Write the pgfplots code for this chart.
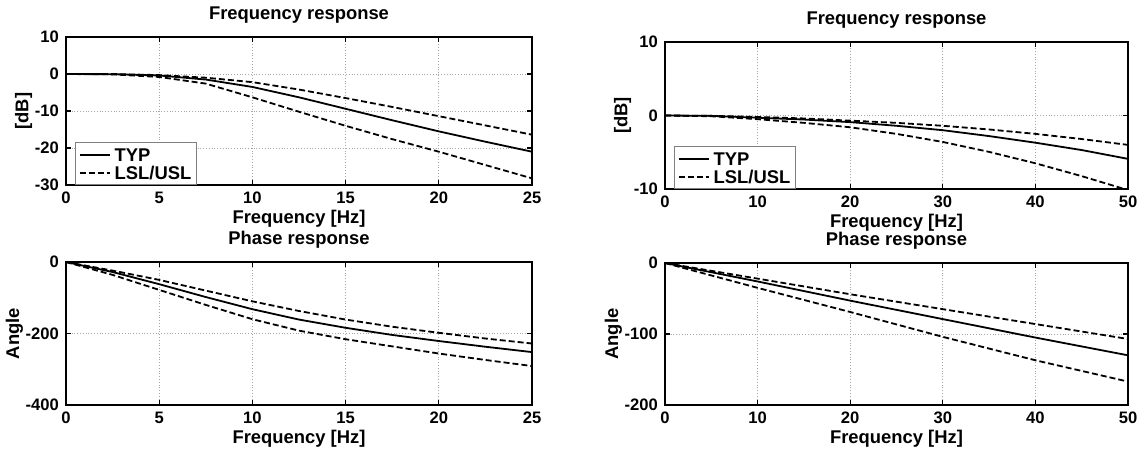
\documentclass[border=0pt]{standalone}
\usepackage{fontspec}
\setmainfont{Liberation Sans}
\usepackage{pgfplots}
\pgfplotsset{compat=1.18}
\begin{document}
\begin{tikzpicture}
\useasboundingbox (0pt,0pt) rectangle (570pt,226pt);
\pgfplotsset{
  ml/.style={
    scale only axis,
    anchor=south west,
    axis line style={line width=1.2pt},
    tick style={black, line width=0.6pt},
    major tick length=2.5pt,
    tick align=inside,
    grid=major,
    major grid style={densely dotted, gray!70, line width=0.4pt},
    tick label style={font=\fontsize{8.3}{9}\selectfont\bfseries},
    label style={font=\fontsize{9.2}{10}\selectfont\bfseries},
    title style={font=\fontsize{9.2}{10}\selectfont\bfseries, yshift=-2.5pt},
    xlabel={Frequency [Hz]},
    xlabel style={yshift=3.5pt},
    ylabel style={yshift=-5.5pt},
    clip=true,
    legend cell align=left,
    legend style={at={(0.02,0)}, anchor=south west, draw=gray,
      font=\fontsize{9.2}{10}\selectfont\bfseries, inner sep=1.5pt, row sep=0pt,
      column sep=1pt,
      nodes={inner sep=1pt, text height=6.7pt, text depth=0.3pt}},
    legend image code/.code={\draw[##1, line width=1pt] (0pt,0pt) -- (15pt,0pt);},
  },
  typ/.style={black, line width=0.9pt},
  lim/.style={black, line width=0.9pt, dash pattern=on 3pt off 1.5pt},
}
% ---------------- top left ----------------
\begin{axis}[ml, at={(33pt,133.5pt)}, width=233pt, height=74pt,
  xmin=0, xmax=25, ymin=-30, ymax=10,
  xtick={0,5,10,15,20,25}, xticklabels={0,5,10,15,20,25},
  ytick={-30,-20,-10,0,10}, yticklabels={-30,-20,-10,0,10},
  title={Frequency response}, ylabel={[dB]}]
\addplot[typ] coordinates {(0,0) (2.5,-0.05) (5,-0.4) (7.5,-1.5) (10,-3.5) (12.5,-6.3) (15,-9.4) (17.5,-12.5) (20,-15.5) (22.5,-18.3) (25,-21)};
\addlegendentry{TYP}
\addplot[lim] coordinates {(0,0) (2.5,0) (5,-0.3) (7.5,-1.0) (10,-2.2) (12.5,-4.2) (15,-6.5) (17.5,-8.9) (20,-11.4) (22.5,-13.9) (25,-16.4)};
\addlegendentry{LSL/USL}
\addplot[lim, forget plot] coordinates {(0,0) (2.5,-0.1) (5,-0.8) (7.5,-2.6) (10,-6.3) (12.5,-10.2) (15,-14) (17.5,-17.6) (20,-21) (22.5,-24.6) (25,-28.2)};
\end{axis}
% ---------------- top right ----------------
\begin{axis}[ml, at={(332.5pt,131.5pt)}, width=231.5pt, height=73.5pt,
  xmin=0, xmax=50, ymin=-10, ymax=10,
  xtick={0,10,20,30,40,50}, xticklabels={0,10,20,30,40,50},
  ytick={-10,0,10}, yticklabels={-10,0,10},
  title={Frequency response}, ylabel={[dB]}]
\addplot[typ] coordinates {(0,0) (5,-0.05) (10,-0.3) (15,-0.55) (20,-0.9) (25,-1.4) (30,-2.0) (35,-2.8) (40,-3.7) (45,-4.7) (50,-5.9)};
\addlegendentry{TYP}
\addplot[lim] coordinates {(0,0) (5,-0.05) (10,-0.2) (15,-0.4) (20,-0.7) (25,-1.0) (30,-1.4) (35,-1.9) (40,-2.5) (45,-3.2) (50,-4.0)};
\addlegendentry{LSL/USL}
\addplot[lim, forget plot] coordinates {(0,0) (5,-0.1) (10,-0.5) (15,-1.0) (20,-1.6) (25,-2.5) (30,-3.6) (35,-4.95) (40,-6.5) (45,-8.25) (50,-10.15)};
\end{axis}
% ---------------- bottom left ----------------
\begin{axis}[ml, at={(33pt,23.5pt)}, width=233pt, height=71.5pt,
  xmin=0, xmax=25, ymin=-400, ymax=0,
  xtick={0,5,10,15,20,25}, xticklabels={0,5,10,15,20,25},
  ytick={-400,-200,0}, yticklabels={-400,-200,0},
  title={Phase response}, ylabel={Angle}]
\addplot[typ] coordinates {(0,0) (2.5,-28) (5,-62) (7.5,-98) (10,-132) (12.5,-161) (15,-184) (17.5,-204) (20,-221) (22.5,-237) (25,-252)};
\addplot[lim] coordinates {(0,0) (2.5,-24) (5,-50) (7.5,-80) (10,-110) (12.5,-137) (15,-161) (17.5,-181) (20,-198) (22.5,-214) (25,-228)};
\addplot[lim] coordinates {(0,0) (2.5,-36) (5,-78) (7.5,-120) (10,-160) (12.5,-192) (15,-216) (17.5,-236) (20,-256) (22.5,-274) (25,-291)};
\end{axis}
% ---------------- bottom right ----------------
\begin{axis}[ml, at={(332.5pt,23.5pt)}, width=231.5pt, height=71pt,
  xmin=0, xmax=50, ymin=-200, ymax=0,
  xtick={0,10,20,30,40,50}, xticklabels={0,10,20,30,40,50},
  ytick={-200,-100,0}, yticklabels={-200,-100,0},
  title={Phase response}, ylabel={Angle}]
\addplot[typ] coordinates {(0,0) (10,-26) (20,-53) (30,-79) (40,-105) (50,-130)};
\addplot[lim] coordinates {(0,0) (10,-22) (20,-44) (30,-65) (40,-86) (50,-107)};
\addplot[lim] coordinates {(0,0) (10,-35) (20,-69) (30,-104) (40,-137) (50,-167)};
\end{axis}
\end{tikzpicture}
\end{document}
